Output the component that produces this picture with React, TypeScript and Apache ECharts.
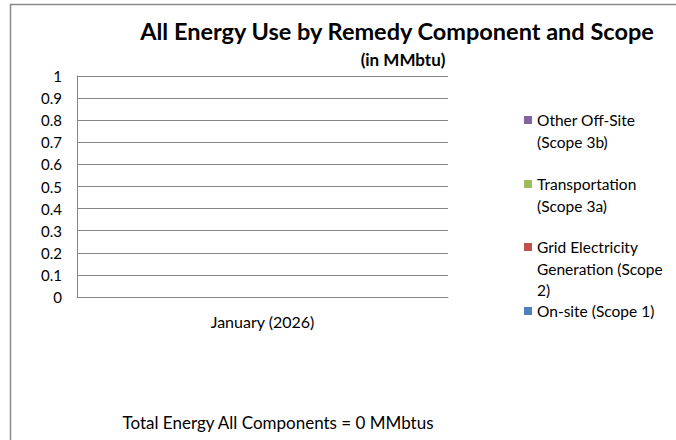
import React, { useEffect, useRef } from "react";
import * as echarts from "echarts";

const categories = ["January (2026)"];
const seriesNames = [
  "On-site (Scope 1)",
  "Grid Electricity Generation (Scope 2)",
  "Transportation (Scope 3a)",
  "Other Off-Site (Scope 3b)",
];
const legendLabels = [
  "On-site (Scope 1)",
  "Grid Electricity\nGeneration (Scope\n2)",
  "Transportation\n(Scope 3a)",
  "Other Off-Site\n(Scope 3b)",
];
const onSite = [0];
const gridElectricity = [0];
const transportation = [0];
const otherOffSite = [0];
const seriesValues = [onSite, gridElectricity, transportation, otherOffSite];
const colors = ["#4F81BD", "#C0504D", "#9BBB59", "#8064A2"];
const yTicks = [0, 0.1, 0.2, 0.3, 0.4, 0.5, 0.6, 0.7, 0.8, 0.9, 1];
const totalEnergy = 0;

const FONT = "Lato, 'Open Sans', sans-serif";

export default function App() {
  const ref = useRef<HTMLDivElement>(null);
  useEffect(() => {
    if (!ref.current) return;
    const chart = echarts.init(ref.current, undefined, { renderer: "svg" });
    const lh = 21.5;
    const legendCenters = [311, 247, 184, 120];
    const legends = seriesNames.map((name, i) => {
      const n = legendLabels[i].split("\n").length;
      const label = "\n".repeat(n - 1) + legendLabels[i];
      return {
        orient: "vertical",
        left: 524,
        top: legendCenters[i] - ((2 * n - 1) * lh) / 2,
        padding: 0,
        itemWidth: 8,
        itemHeight: 8,
        itemGap: 0,
        icon: "rect",
        data: [name],
        formatter: () => label,
        selectedMode: false,
        textStyle: {
          fontFamily: FONT,
          fontSize: 15.5,
          color: "#000",
          lineHeight: lh,
        },
      };
    });
    chart.setOption({
      animation: false,
      backgroundColor: "#fff",
      title: [
        {
          text: "All Energy Use by Remedy Component and Scope",
          left: 392,
          top: 14,
          textAlign: "center",
          textStyle: { fontFamily: FONT, fontSize: 23.5, fontWeight: "bold", color: "#000" },
        },
        {
          text: "(in MMbtu)",
          left: 398,
          top: 46,
          textAlign: "center",
          textStyle: { fontFamily: FONT, fontSize: 17, fontWeight: "bold", color: "#000" },
        },
        {
          text: `Total Energy All Components = ${totalEnergy} MMbtus`,
          left: 273,
          top: 409,
          textAlign: "center",
          textStyle: { fontFamily: FONT, fontSize: 17, fontWeight: "normal", color: "#000" },
        },
      ],
      legend: legends,
      grid: { left: 77, top: 76, width: 371, height: 221, containLabel: false },
      xAxis: {
        type: "category",
        data: categories,
        axisLine: { show: true, lineStyle: { color: "#868686", width: 1 } },
        axisTick: { show: false },
        axisLabel: { fontFamily: FONT, fontSize: 16, color: "#000", margin: 16 },
      },
      yAxis: {
        type: "value",
        min: yTicks[0],
        max: yTicks[yTicks.length - 1],
        interval: 0.1,
        axisLine: { show: true, lineStyle: { color: "#868686", width: 1 } },
        axisTick: { show: false },
        splitLine: { show: true, lineStyle: { color: "#868686", width: 1 } },
        axisLabel: {
          fontFamily: FONT,
          fontSize: 15,
          color: "#000",
          margin: 15,
          formatter: (v: number) => String(Math.round(v * 10) / 10),
        },
      },
      series: seriesNames.map((name, i) => ({
        name,
        type: "bar",
        stack: "total",
        data: seriesValues[i],
        itemStyle: { color: colors[i] },
        barWidth: "50%",
      })),
      graphic: [
        {
          type: "polyline",
          shape: { points: [[10.5, 445], [10.5, 4.5], [680, 4.5]] },
          style: { stroke: "#8a8a8a", lineWidth: 1.5, fill: "none" },
          silent: true,
        },
      ],
    });
    return () => chart.dispose();
  }, []);
  return (
    <div
      ref={ref}
      style={{ position: "fixed", left: 0, top: 0, width: 676, height: 440 }}
    />
  );
}
